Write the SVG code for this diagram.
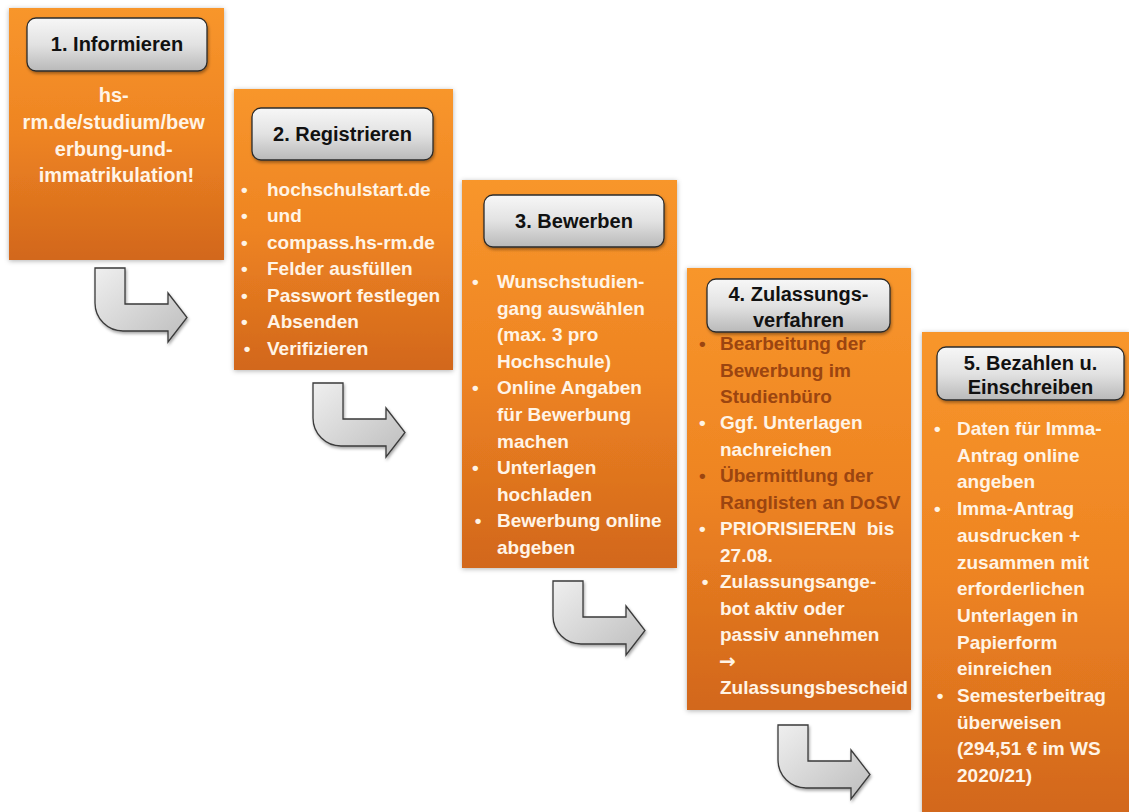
<svg xmlns="http://www.w3.org/2000/svg" width="1129" height="812" viewBox="0 0 1129 812">
<style>
.box{fill:url(#og);filter:url(#sh)}
.ttl{fill:url(#gg);stroke:#2b2b2b;stroke-width:1.3;filter:url(#sh2)}
.tt{font-family:"Liberation Sans",Arial,sans-serif;font-weight:bold;font-size:20px;fill:#111;text-anchor:middle}
.bd{font-family:"Liberation Sans",Arial,sans-serif;font-weight:bold;font-size:19px;fill:#FFF4E6}
.ctr{text-anchor:middle}
.br{fill:#9B4510}
.arw{font-family:"DejaVu Sans",sans-serif;font-size:20px}
.arr{fill:url(#ag);stroke:#3a3a3a;stroke-width:1.3;filter:url(#sh2)}
</style>
<defs>
<linearGradient id="og" x1="0" y1="0" x2="0" y2="1">
<stop offset="0" stop-color="#F8962C"/>
<stop offset="0.5" stop-color="#EE8422"/>
<stop offset="1" stop-color="#D2671C"/>
</linearGradient>
<linearGradient id="gg" x1="0" y1="0" x2="0" y2="1">
<stop offset="0" stop-color="#F7F7F7"/>
<stop offset="0.5" stop-color="#E2E2E2"/>
<stop offset="1" stop-color="#B9B9B9"/>
</linearGradient>
<linearGradient id="ag" x1="0" y1="0" x2="1" y2="1">
<stop offset="0" stop-color="#EFEFEF"/>
<stop offset="1" stop-color="#BDBDBD"/>
</linearGradient>
<filter id="sh" x="-10%" y="-10%" width="120%" height="120%">
<feDropShadow dx="0" dy="1" stdDeviation="2.5" flood-color="#000" flood-opacity="0.3"/>
</filter>
<filter id="sh2" x="-10%" y="-10%" width="130%" height="140%">
<feDropShadow dx="1" dy="2" stdDeviation="1.5" flood-color="#000" flood-opacity="0.35"/>
</filter>
<path id="bend" d="M0,0 H30 V36 H73 V25 L92,49.5 L73,74 V63 H28 A28,28 0 0 1 0,35 Z"/>
</defs>
<rect width="1129" height="812" fill="#fff"/>

<g id="connectors">
<use href="#bend" class="arr" transform="translate(95,268)"/>
<use href="#bend" class="arr" transform="translate(313,383)"/>
<use href="#bend" class="arr" transform="translate(553,581)"/>
<use href="#bend" class="arr" transform="translate(778,725)"/>
</g>

<g id="step1">
<rect class="box" x="9" y="8" width="215" height="252"/>
<rect class="ttl" x="27" y="18" width="180" height="53" rx="9"/>
<text class="tt" x="117" y="51">1. Informieren</text>
<text class="bd ctr" style="font-size:20px">
<tspan x="116.5" y="102">hs-</tspan>
<tspan x="116.5" y="129">rm.de/studium/bew</tspan>
<tspan x="116.5" y="156">erbung-und-</tspan>
<tspan x="116.5" y="182">immatrikulation!</tspan>
</text>
</g>

<g id="step2">
<rect class="box" x="234" y="89" width="219" height="281"/>
<rect class="ttl" x="252" y="108" width="181" height="52" rx="9"/>
<text class="tt" x="342.5" y="141">2. Registrieren</text>
<text class="bd ctr">
<tspan x="247" y="195.5">•</tspan>
<tspan x="247" y="222">•</tspan>
<tspan x="247" y="248.5">•</tspan>
<tspan x="247" y="275">•</tspan>
<tspan x="247" y="301.5">•</tspan>
<tspan x="247" y="328">•</tspan>
<tspan x="247" y="354.5">•</tspan>
</text>
<text class="bd">
<tspan x="267" y="195.5">hochschulstart.de</tspan>
<tspan x="267" y="222">und</tspan>
<tspan x="267" y="248.5">compass.hs-rm.de</tspan>
<tspan x="267" y="275">Felder ausfüllen</tspan>
<tspan x="267" y="301.5">Passwort festlegen</tspan>
<tspan x="267" y="328">Absenden</tspan>
<tspan x="267" y="354.5">Verifizieren</tspan>
</text>
</g>

<g id="step3">
<rect class="box" x="462" y="180" width="215" height="388"/>
<rect class="ttl" x="484" y="195" width="180" height="52" rx="9"/>
<text class="tt" x="574" y="228">3. Bewerben</text>
<text class="bd ctr">
<tspan x="478" y="288">•</tspan>
<tspan x="478" y="394.4">•</tspan>
<tspan x="478" y="474.2">•</tspan>
<tspan x="478" y="527.4">•</tspan>
</text>
<text class="bd">
<tspan x="497" y="288">Wunschstudien-</tspan>
<tspan x="497" y="314.6">gang auswählen</tspan>
<tspan x="497" y="341.2">(max. 3 pro</tspan>
<tspan x="497" y="367.8">Hochschule)</tspan>
<tspan x="497" y="394.4">Online Angaben</tspan>
<tspan x="497" y="421">für Bewerbung</tspan>
<tspan x="497" y="447.6">machen</tspan>
<tspan x="497" y="474.2">Unterlagen</tspan>
<tspan x="497" y="500.8">hochladen</tspan>
<tspan x="497" y="527.4">Bewerbung online</tspan>
<tspan x="497" y="554">abgeben</tspan>
</text>
</g>

<g id="step4">
<rect class="box" x="687" y="268" width="224" height="442"/>
<rect class="ttl" x="707" y="279" width="183" height="53" rx="9"/>
<text class="tt"><tspan x="798.5" y="301">4. Zulassungs-</tspan><tspan x="798.5" y="327">verfahren</tspan></text>
<text class="bd ctr">
<tspan class="br" x="705" y="350">•</tspan>
<tspan x="705" y="429.4">•</tspan>
<tspan class="br" x="705" y="482.3">•</tspan>
<tspan x="705" y="535.2">•</tspan>
<tspan x="705" y="588.1">•</tspan>
</text>
<text class="bd">
<tspan class="br" x="720" y="350">Bearbeitung der</tspan>
<tspan class="br" x="720" y="376.5">Bewerbung im</tspan>
<tspan class="br" x="720" y="402.9">Studienbüro</tspan>
<tspan x="720" y="429.4">Ggf. Unterlagen</tspan>
<tspan x="720" y="455.8">nachreichen</tspan>
<tspan class="br" x="720" y="482.3">Übermittlung der</tspan>
<tspan class="br" x="720" y="508.8">Ranglisten an DoSV</tspan>
<tspan x="720" y="535.2">PRIORISIEREN&#160; bis</tspan>
<tspan x="720" y="561.7">27.08.</tspan>
<tspan x="720" y="588.1">Zulassungsange-</tspan>
<tspan x="720" y="614.6">bot aktiv oder</tspan>
<tspan x="720" y="641">passiv annehmen</tspan>
<tspan class="arw" x="719" y="668">→</tspan>
<tspan x="720" y="694">Zulassungsbescheid</tspan>
</text>
</g>

<g id="step5">
<rect class="box" x="922" y="332" width="207" height="482"/>
<rect class="ttl" x="937" y="347" width="187" height="53" rx="9"/>
<text class="tt"><tspan x="1030.5" y="370">5. Bezahlen u.</tspan><tspan x="1030.5" y="394">Einschreiben</tspan></text>
<text class="bd ctr">
<tspan x="940" y="435">•</tspan>
<tspan x="940" y="515.1">•</tspan>
<tspan x="940" y="702">•</tspan>
</text>
<text class="bd">
<tspan x="957" y="435">Daten für Imma-</tspan>
<tspan x="957" y="461.7">Antrag online</tspan>
<tspan x="957" y="488.4">angeben</tspan>
<tspan x="957" y="515.1">Imma-Antrag</tspan>
<tspan x="957" y="541.8">ausdrucken +</tspan>
<tspan x="957" y="568.5">zusammen mit</tspan>
<tspan x="957" y="595.2">erforderlichen</tspan>
<tspan x="957" y="621.9">Unterlagen in</tspan>
<tspan x="957" y="648.6">Papierform</tspan>
<tspan x="957" y="675.3">einreichen</tspan>
<tspan x="957" y="702">Semesterbeitrag</tspan>
<tspan x="957" y="728.7">überweisen</tspan>
<tspan x="957" y="755.4">(294,51 € im WS</tspan>
<tspan x="957" y="782">2020/21)</tspan>
</text>
</g>
</svg>
